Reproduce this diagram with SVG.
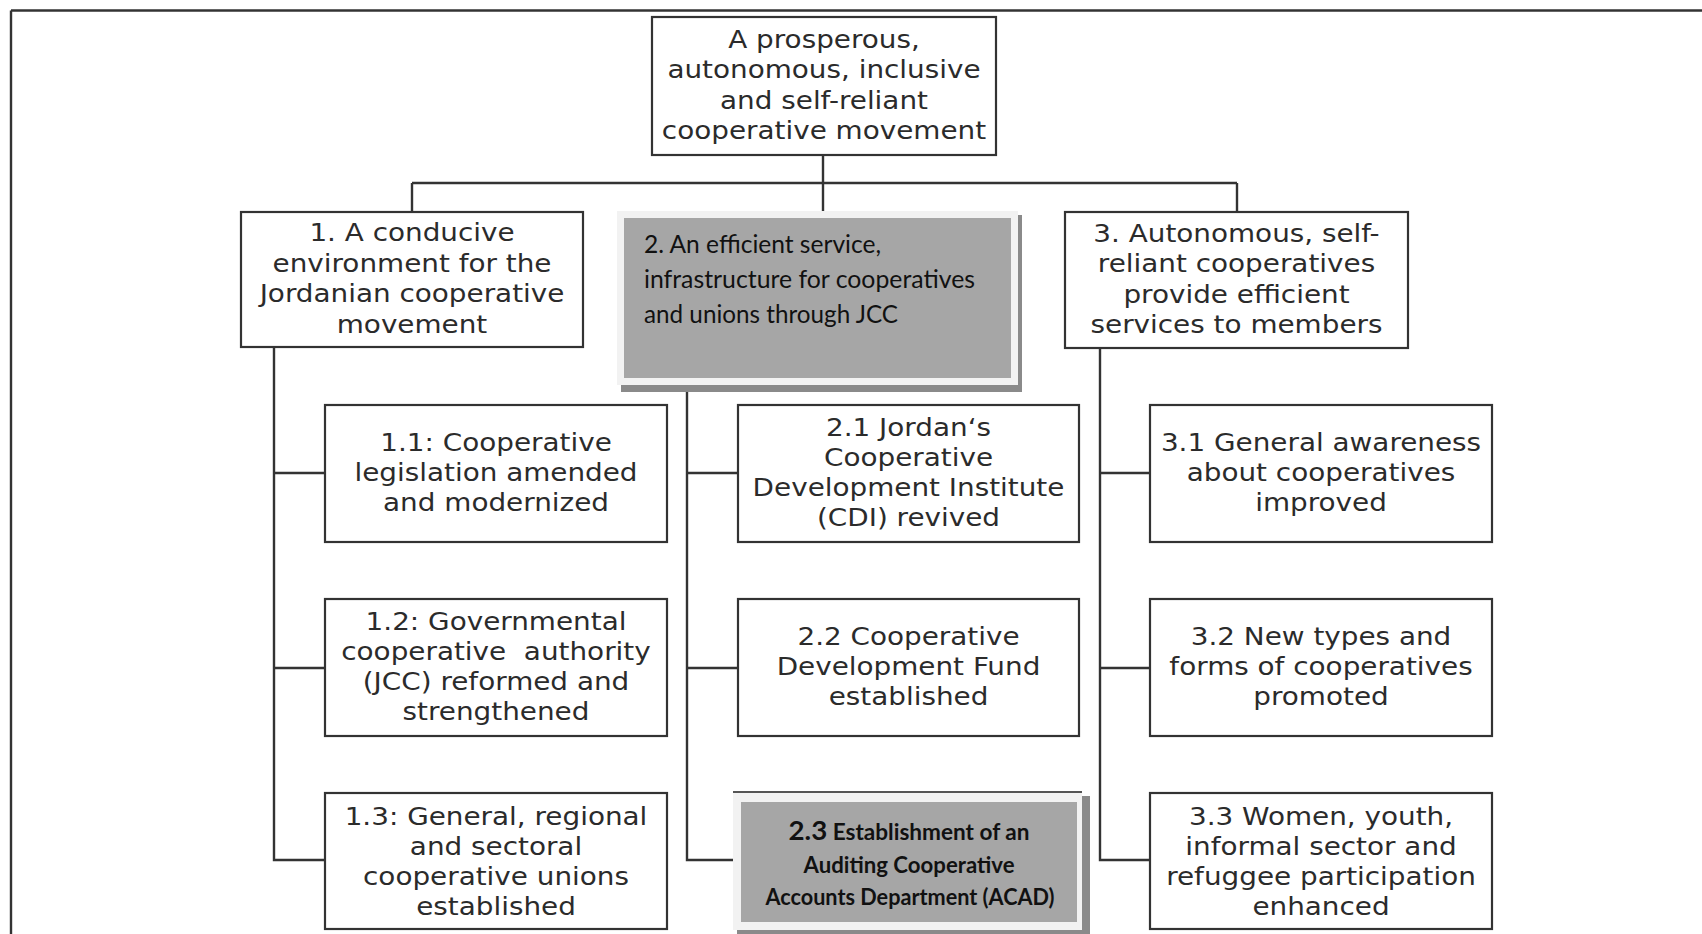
<svg xmlns="http://www.w3.org/2000/svg" width="1702" height="934" viewBox="0 0 1702 934">
<style>
.box{fill:#fff;stroke:#333;stroke-width:2.2}
.ln{stroke:#333;stroke-width:2.4;fill:none}
.t{font-family:"DejaVu Sans",Verdana,sans-serif;font-size:24px;fill:#2b2b2b;text-anchor:middle}
.g{font-family:Lato,"Liberation Sans",sans-serif;font-size:25px;fill:#111}
.gb{font-family:Lato,"Liberation Sans",sans-serif;font-weight:bold;fill:#111;text-anchor:middle}
.sh{fill:#8a8a8a}
.lt{fill:#f2f2f2}
.gr{fill:#a6a6a6}
</style>
<rect width="1702" height="934" fill="#fff"/>
<g id="frame">
<line class="ln" x1="11" y1="10.5" x2="1702" y2="10.5"/>
<line class="ln" x1="11" y1="10.5" x2="11" y2="934"/>
</g>
<g id="connectors">
<line class="ln" x1="823" y1="155" x2="823" y2="211"/>
<line class="ln" x1="412" y1="183" x2="1237" y2="183"/>
<line class="ln" x1="412" y1="183" x2="412" y2="212"/>
<line class="ln" x1="1237" y1="183" x2="1237" y2="212"/>
<polyline class="ln" points="274,347 274,860 325,860"/>
<line class="ln" x1="274" y1="473" x2="325" y2="473"/>
<line class="ln" x1="274" y1="668" x2="325" y2="668"/>
<polyline class="ln" points="687,385 687,860 735,860"/>
<line class="ln" x1="687" y1="473" x2="738" y2="473"/>
<line class="ln" x1="687" y1="668" x2="738" y2="668"/>
<polyline class="ln" points="1100,348 1100,860 1150,860"/>
<line class="ln" x1="1100" y1="473" x2="1150" y2="473"/>
<line class="ln" x1="1100" y1="668" x2="1150" y2="668"/>
</g>
<g id="goal">
<rect class="box" x="652" y="17" width="344" height="138"/>
<text class="t" transform="translate(824 0) scale(1.16 1)"><tspan x="0" y="48">A prosperous,</tspan><tspan x="0" y="78.5">autonomous, inclusive</tspan><tspan x="0" y="109">and self-reliant</tspan><tspan x="0" y="139.5">cooperative movement</tspan></text>
</g>
<g id="o1">
<rect class="box" x="241" y="212" width="342" height="135"/>
<text class="t" transform="translate(412 0) scale(1.16 1)"><tspan x="0" y="241.5">1. A conducive</tspan><tspan x="0" y="272">environment for the</tspan><tspan x="0" y="302.5">Jordanian cooperative</tspan><tspan x="0" y="333">movement</tspan></text>
</g>
<g id="o2">
<rect class="sh" x="621" y="215" width="401" height="177"/>
<rect class="lt" x="617" y="211" width="401" height="174"/>
<rect class="gr" x="624" y="218" width="387" height="160"/>
<text class="g"><tspan x="644" y="253" textLength="237" lengthAdjust="spacingAndGlyphs">2. An efficient service,</tspan></text>
<text class="g"><tspan x="644" y="288" textLength="331" lengthAdjust="spacingAndGlyphs">infrastructure for cooperatives</tspan></text>
<text class="g"><tspan x="644" y="323" textLength="254" lengthAdjust="spacingAndGlyphs">and unions through JCC</tspan></text>
</g>
<g id="o3">
<rect class="box" x="1065" y="212" width="343" height="136"/>
<text class="t" transform="translate(1236.5 0) scale(1.16 1)"><tspan x="0" y="242">3. Autonomous, self-</tspan><tspan x="0" y="272.5">reliant cooperatives</tspan><tspan x="0" y="303">provide efficient</tspan><tspan x="0" y="333.5">services to members</tspan></text>
</g>
<g id="r11">
<rect class="box" x="325" y="405" width="342" height="137"/>
<text class="t" transform="translate(496 0) scale(1.16 1)"><tspan x="0" y="451">1.1: Cooperative</tspan><tspan x="0" y="481">legislation amended</tspan><tspan x="0" y="511">and modernized</tspan></text>
</g>
<g id="r12">
<rect class="box" x="325" y="599" width="342" height="137"/>
<text class="t" transform="translate(496 0) scale(1.16 1)"><tspan x="0" y="630">1.2: Governmental</tspan><tspan x="0" y="660">cooperative&#160; authority</tspan><tspan x="0" y="690">(JCC) reformed and</tspan><tspan x="0" y="720">strengthened</tspan></text>
</g>
<g id="r13">
<rect class="box" x="325" y="793" width="342" height="136"/>
<text class="t" transform="translate(496 0) scale(1.16 1)"><tspan x="0" y="825">1.3: General, regional</tspan><tspan x="0" y="855">and sectoral</tspan><tspan x="0" y="885">cooperative unions</tspan><tspan x="0" y="915">established</tspan></text>
</g>
<g id="r21">
<rect class="box" x="738" y="405" width="341" height="137"/>
<text class="t" transform="translate(908.5 0) scale(1.16 1)"><tspan x="0" y="436">2.1 Jordan‘s</tspan><tspan x="0" y="466">Cooperative</tspan><tspan x="0" y="496">Development Institute</tspan><tspan x="0" y="526">(CDI) revived</tspan></text>
</g>
<g id="r22">
<rect class="box" x="738" y="599" width="341" height="137"/>
<text class="t" transform="translate(908.5 0) scale(1.16 1)"><tspan x="0" y="645">2.2 Cooperative</tspan><tspan x="0" y="675">Development Fund</tspan><tspan x="0" y="705">established</tspan></text>
</g>
<g id="r23">
<rect class="sh" x="737" y="796" width="353" height="140"/>
<rect class="lt" x="733" y="792" width="349" height="138"/>
<line x1="733" y1="792" x2="1082" y2="792" stroke="#555" stroke-width="2"/>
<rect class="gr" x="741" y="802" width="336" height="120"/>
<text class="gb" x="909" y="840" textLength="241" lengthAdjust="spacingAndGlyphs"><tspan font-size="27">2.3</tspan><tspan font-size="22"> Establishment of an</tspan></text>
<text class="gb" x="909" y="873" font-size="23" textLength="211" lengthAdjust="spacingAndGlyphs">Auditing Cooperative</text>
<text class="gb" x="910" y="905" font-size="23" textLength="289" lengthAdjust="spacingAndGlyphs">Accounts Department (ACAD)</text>
</g>
<g id="r31">
<rect class="box" x="1150" y="405" width="342" height="137"/>
<text class="t" transform="translate(1321 0) scale(1.16 1)"><tspan x="0" y="451">3.1 General awareness</tspan><tspan x="0" y="481">about cooperatives</tspan><tspan x="0" y="511">improved</tspan></text>
</g>
<g id="r32">
<rect class="box" x="1150" y="599" width="342" height="137"/>
<text class="t" transform="translate(1321 0) scale(1.16 1)"><tspan x="0" y="645">3.2 New types and</tspan><tspan x="0" y="675">forms of cooperatives</tspan><tspan x="0" y="705">promoted</tspan></text>
</g>
<g id="r33">
<rect class="box" x="1150" y="793" width="342" height="136"/>
<text class="t" transform="translate(1321 0) scale(1.16 1)"><tspan x="0" y="825">3.3 Women, youth,</tspan><tspan x="0" y="855">informal sector and</tspan><tspan x="0" y="885">refuggee participation</tspan><tspan x="0" y="915">enhanced</tspan></text>
</g>
</svg>
